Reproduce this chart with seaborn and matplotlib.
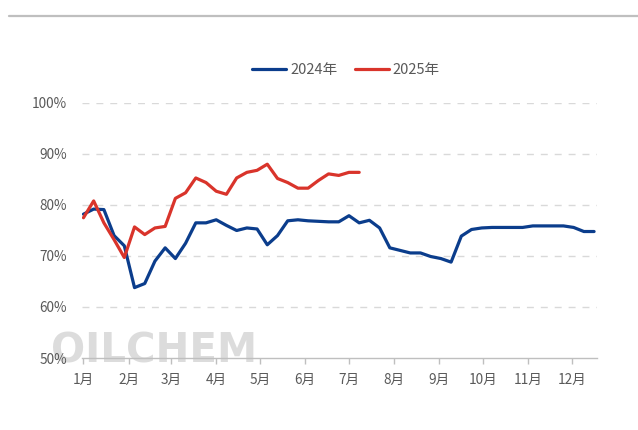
import numpy as np
import pandas as pd
import matplotlib.pyplot as plt
import seaborn as sns
from matplotlib.lines import Line2D

# weekly operating rate, %
rate_2024 = [78.2, 79.2, 79.1, 74.0, 72.0, 63.8, 64.6, 69.0, 71.6, 69.5,
             72.5, 76.5, 76.5, 77.1, 76.0, 75.0, 75.5, 75.3, 72.2, 74.0,
             76.9, 77.1, 76.9, 76.8, 76.7, 76.7, 77.9, 76.5, 77.0, 75.5,
             71.6, 71.1, 70.6, 70.6, 69.9, 69.5, 68.8, 73.9, 75.2, 75.5,
             75.6, 75.6, 75.6, 75.6, 75.9, 75.9, 75.9, 75.9, 75.6, 74.8,
             74.8]
rate_2025 = [77.5, 80.8, 76.5, 73.2, 69.7, 75.7, 74.2, 75.5, 75.8, 81.3,
             82.4, 85.3, 84.4, 82.7, 82.1, 85.3, 86.4, 86.8, 88.0, 85.2,
             84.4, 83.3, 83.3, 84.8, 86.1, 85.8, 86.4, 86.4]
month_labels = ['1月', '2月', '3月', '4月', '5月', '6月', '7月', '8月', '9月', '10月', '11月', '12月']
month_start_day = [0, 31, 60, 91, 121, 152, 182, 213, 244, 274, 305, 335]
y_ticks = [50, 60, 70, 80, 90, 100]

df24 = pd.DataFrame({'day': np.arange(len(rate_2024)) * 7, 'rate': rate_2024})
df25 = pd.DataFrame({'day': np.arange(len(rate_2025)) * 7, 'rate': rate_2025})

sns.set_style('white')
plt.rcParams['font.family'] = ['Noto Sans CJK SC', 'DejaVu Sans']

fig = plt.figure(figsize=(6.38, 4.30), dpi=100)
ax = fig.add_axes([82 / 638, 1 - 358 / 430, (597 - 82) / 638, (358 - 103) / 430])

# top separator line
fig.add_artist(Line2D([9 / 638, 1], [1 - 16 / 430] * 2, color='#bfbfbf', lw=1.6))

# watermark
ax.text(-22, 51.3, 'OILCHEM', fontsize=29, fontweight='bold', color='#d4d4d4',
        family=['DejaVu Sans'], alpha=0.8, va='center', ha='left', zorder=0, clip_on=False)

sns.lineplot(data=df24, x='day', y='rate', ax=ax, color='#0b3d8c', lw=2.3, label='2024年', zorder=3)
sns.lineplot(data=df25, x='day', y='rate', ax=ax, color='#d9342b', lw=2.3, label='2025年', zorder=4)

ax.set_ylim(50, 100)
ax.set_xlim(-1, 352)
ax.set_yticks(y_ticks)
ax.set_yticklabels([f'{v}%' for v in y_ticks])
ax.set_xticks(month_start_day)
ax.set_xticklabels(month_labels)
ax.set_xlabel(None)
ax.set_ylabel(None)

for v in y_ticks[1:]:
    ax.axhline(v, color='#d9d9d9', lw=1, ls=(0, (5, 5)), zorder=1)

ax.spines[['right', 'top', 'left']].set_visible(False)
ax.spines['bottom'].set_color('#bfbfbf')
ax.spines['bottom'].set_linewidth(1)
ax.tick_params(axis='y', length=0, pad=11, labelsize=9.8, labelcolor='#595959')
ax.tick_params(axis='x', length=4, width=1, color='#bfbfbf', pad=7, labelsize=9.8,
               labelcolor='#595959', bottom=True)

ax.legend(loc='center', bbox_to_anchor=(0.513, 1.13), ncol=2, frameon=False,
          fontsize=10.5, handlelength=2.3, handletextpad=0.3, columnspacing=1.2,
          labelcolor='#595959')

fig.savefig('out.png', dpi=100)
